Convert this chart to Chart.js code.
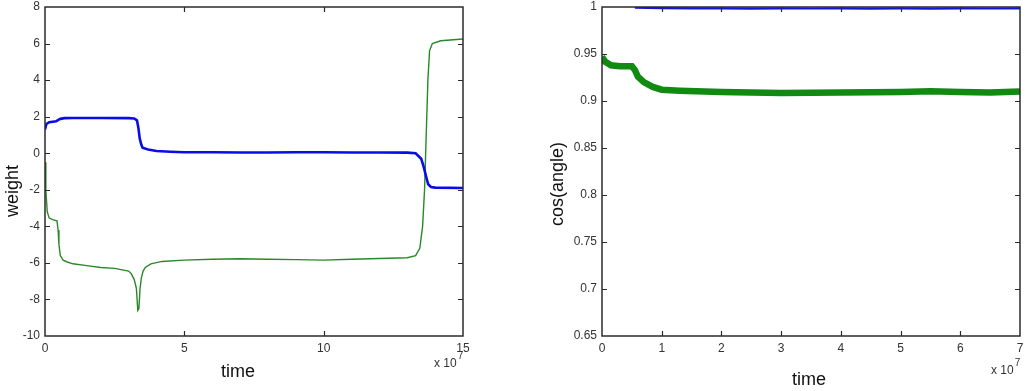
<!DOCTYPE html>
<html>
<head>
<meta charset="utf-8">
<script src="https://cdn.jsdelivr.net/npm/chart.js@4.4.1/dist/chart.umd.min.js"></script>
<style>
  html,body{margin:0;padding:0;background:#fff;}
  body{width:1025px;height:391px;position:relative;overflow:hidden;}
  .pane{position:absolute;top:0;}
</style>
</head>
<body>
<div class="pane" style="left:0px"><canvas id="c1" width="475" height="391"></canvas></div>
<div class="pane" style="left:520px"><canvas id="c2" width="505" height="391"></canvas></div>
<script>
// ---- Data (time in units of 1e7) ----
const weightTicksX = [0, 5, 10, 15];
const weightTicksY = [-10, -8, -6, -4, -2, 0, 2, 4, 6, 8];
const cosTicksX = [0, 1, 2, 3, 4, 5, 6, 7];
const cosTicksY = [0.65, 0.7, 0.75, 0.8, 0.85, 0.9, 0.95, 1];

const weightBlueT = [0,0.05,0.15,0.4,0.45,0.55,0.7,1,2,3,3.2,3.3,3.35,3.4,3.45,3.5,3.7,4,4.5,5,6,7,8,9,10,11,12,13,13.3,13.5,13.6,13.68,13.75,13.85,14,15];
const weightBlueV = [1.3,1.6,1.7,1.75,1.8,1.88,1.92,1.93,1.93,1.92,1.9,1.8,1.4,0.8,0.5,0.3,0.2,0.12,0.08,0.05,0.05,0.04,0.04,0.05,0.05,0.04,0.04,0.03,0,-0.3,-0.8,-1.3,-1.7,-1.85,-1.88,-1.9];

const weightGreenT = [0,0.03,0.08,0.15,0.3,0.43,0.47,0.5,0.55,0.65,0.8,1,1.5,2,2.5,3,3.1,3.2,3.28,3.33,3.37,3.41,3.46,3.52,3.6,3.8,4.2,5,6,7,8,9,10,11,12,13,13.3,13.45,13.55,13.62,13.68,13.74,13.8,13.9,14.2,15];
const weightGreenV = [-0.5,-2,-3.2,-3.55,-3.65,-3.7,-4.2,-5,-5.6,-5.85,-5.95,-6.05,-6.15,-6.25,-6.3,-6.45,-6.6,-6.9,-7.4,-8.6,-8.5,-7.4,-6.8,-6.45,-6.25,-6.05,-5.92,-5.85,-5.8,-5.77,-5.8,-5.82,-5.85,-5.8,-5.76,-5.72,-5.6,-5.2,-4,-2,1,4,5.6,6.0,6.15,6.25];

const cosBlueT = [0.55,1,1.5,2,2.5,3,3.5,4,4.5,5,5.5,6,6.5,7];
const cosBlueV = [0.9992,0.9988,0.9986,0.9985,0.9983,0.9986,0.9984,0.9985,0.9983,0.9985,0.9983,0.9986,0.9984,0.9985];

const cosGreenT = [0,0.05,0.15,0.3,0.5,0.55,0.6,0.7,0.85,1,1.3,2,2.5,3,3.5,4,4.5,5,5.5,6,6.5,7];
const cosGreenV = [0.947,0.942,0.938,0.937,0.937,0.933,0.926,0.92,0.915,0.912,0.911,0.9095,0.909,0.9085,0.9088,0.909,0.9093,0.9097,0.9103,0.9095,0.909,0.9102];

const pts = (t, v) => t.map((x, i) => ({x: x, y: v[i]}));

// ---- Matlab-like frame, inner ticks and labels ----
const matFrame = {
  id: 'matFrame',
  afterDraw(chart, args, o) {
    const ctx = chart.ctx;
    const {left, right, top, bottom} = chart.chartArea;
    const xs = chart.scales.x, ys = chart.scales.y;
    ctx.save();
    ctx.strokeStyle = '#2b2b2b';
    ctx.lineWidth = 1.5;
    ctx.strokeRect(left, top, right - left, bottom - top);
    ctx.lineWidth = 1.2;
    ctx.beginPath();
    xs.ticks.forEach(t => {
      const p = Math.round(xs.getPixelForValue(t.value)) + 0.5;
      if (p <= left + 1 || p >= right - 1) return;
      ctx.moveTo(p, bottom); ctx.lineTo(p, bottom - 5);
      ctx.moveTo(p, top); ctx.lineTo(p, top + 5);
    });
    ys.ticks.forEach(t => {
      const p = Math.round(ys.getPixelForValue(t.value)) + 0.5;
      if (p <= top + 1 || p >= bottom - 1) return;
      ctx.moveTo(left, p); ctx.lineTo(left + 5, p);
      ctx.moveTo(right, p); ctx.lineTo(right - 5, p);
    });
    ctx.stroke();
    // titles
    ctx.fillStyle = '#111';
    ctx.font = '18px "Liberation Sans", Arial, sans-serif';
    ctx.textAlign = 'center';
    ctx.textBaseline = 'middle';
    ctx.fillText(o.xTitle.text, o.xTitle.x, o.xTitle.y);
    ctx.save();
    ctx.translate(o.yTitle.x, o.yTitle.y);
    ctx.rotate(-Math.PI / 2);
    ctx.fillText(o.yTitle.text, 0, 0);
    ctx.restore();
    // exponent
    ctx.fillStyle = '#333';
    ctx.textAlign = 'left';
    ctx.textBaseline = 'alphabetic';
    ctx.font = '12px "Liberation Sans", Arial, sans-serif';
    ctx.fillText('x 10', o.exp.x, o.exp.y);
    const w = ctx.measureText('x 10').width;
    ctx.font = '10px "Liberation Sans", Arial, sans-serif';
    ctx.fillText('7', o.exp.x + w + 1, o.exp.y - 8);
    ctx.restore();
  }
};

const tickFont = {family: '"Liberation Sans", Arial, sans-serif', size: 12};
const zeroPad = s => { s.paddingTop = 0; s.paddingBottom = 0; s.paddingLeft = 0; s.paddingRight = 0; };

function makeChart(id, cfg) {
  return new Chart(document.getElementById(id), {
    type: 'scatter',
    data: {datasets: cfg.datasets},
    options: {
      responsive: false,
      animation: false,
      devicePixelRatio: 1,
      layout: {padding: {top: 7, right: cfg.padRight, left: 0, bottom: 0}},
      plugins: {legend: {display: false}, tooltip: {enabled: false}, matFrame: cfg.frame},
      elements: {point: {radius: 0}},
      scales: {
        x: {
          type: 'linear', min: cfg.xTicks[0], max: cfg.xTicks[cfg.xTicks.length - 1],
          grid: {display: false, drawTicks: false, tickLength: 0}, border: {display: false},
          afterBuildTicks: s => { s.ticks = cfg.xTicks.map(v => ({value: v})); },
          afterFit: s => { s.height = 55; zeroPad(s); },
          ticks: {autoSkip: false, maxRotation: 0, padding: 5, color: '#333', font: tickFont,
                  callback: v => String(v)}
        },
        y: {
          type: 'linear', min: cfg.yTicks[0], max: cfg.yTicks[cfg.yTicks.length - 1],
          grid: {display: false, drawTicks: false, tickLength: 0}, border: {display: false},
          afterBuildTicks: s => { s.ticks = cfg.yTicks.map(v => ({value: v})); },
          afterFit: s => { s.width = cfg.yWidth; zeroPad(s); },
          ticks: {autoSkip: false, padding: 5, color: '#333', font: tickFont,
                  callback: v => String(Math.round(v * 100) / 100)}
        }
      }
    },
    plugins: [matFrame]
  });
}

makeChart('c1', {
  xTicks: weightTicksX, yTicks: weightTicksY, yWidth: 45, padRight: 12,
  datasets: [
    {data: pts(weightBlueT, weightBlueV), showLine: true, borderColor: '#0b0be6', borderWidth: 2.6, pointRadius: 0},
    {data: pts(weightGreenT, weightGreenV), showLine: true, borderColor: '#2a882a', borderWidth: 1.4, pointRadius: 0}
  ],
  frame: {xTitle: {text: 'time', x: 238, y: 372}, yTitle: {text: 'weight', x: 13, y: 191}, exp: {x: 434, y: 367}}
});

makeChart('c2', {
  xTicks: cosTicksX, yTicks: cosTicksY, yWidth: 82, padRight: 5,
  datasets: [
    {data: pts(cosBlueT, cosBlueV), showLine: true, borderColor: '#1414d2', borderWidth: 2.2, pointRadius: 0},
    {data: pts(cosGreenT, cosGreenV), showLine: true, borderColor: '#118a11', borderWidth: 6.5, pointRadius: 0}
  ],
  frame: {xTitle: {text: 'time', x: 289, y: 380}, yTitle: {text: 'cos(angle)', x: 38, y: 184}, exp: {x: 471, y: 374}}
});
</script>
</body>
</html>
